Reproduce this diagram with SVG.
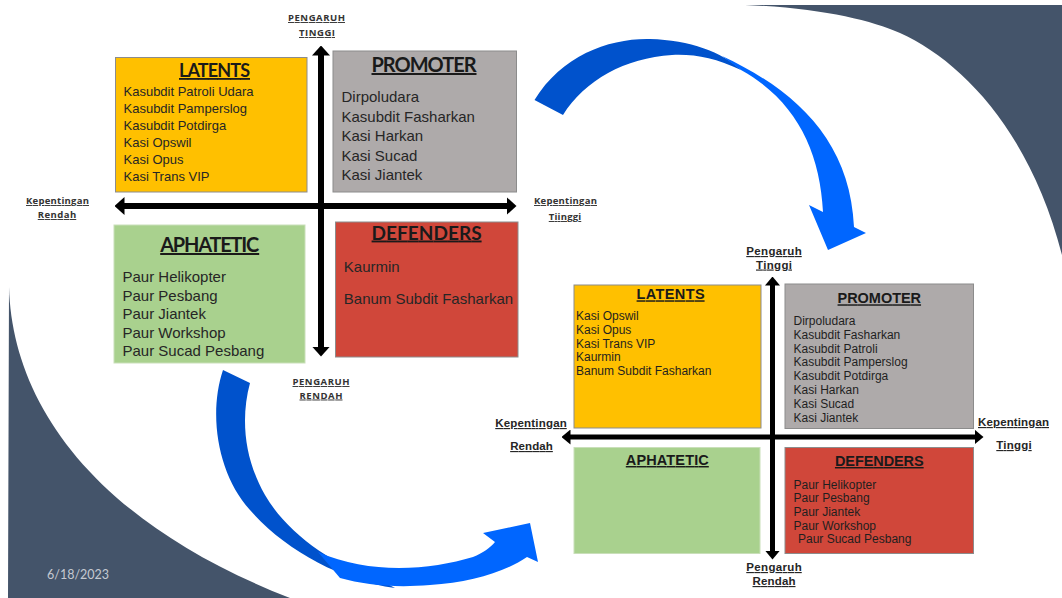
<svg xmlns="http://www.w3.org/2000/svg" width="1062" height="598" viewBox="0 0 1062 598">
<defs>
<style>
.bg{fill:#44546A}
.yel{fill:#FFC000;stroke:#8c8c8c;stroke-width:1}
.gry{fill:#AEAAAA;stroke:#8c8c8c;stroke-width:1}
.grn{fill:#A9D18E;stroke:#c9dfb9;stroke-width:1}
.red{fill:#D0473A;stroke:#8c8c8c;stroke-width:1}
.h1{font-family:Lato,"Open Sans",sans-serif;font-weight:bold;text-decoration:underline;text-anchor:middle;fill:#1a1a1a}
.i1{font-family:"Liberation Sans",Arial,sans-serif;fill:#262626}
.ax1{font-family:"Open Sans","Liberation Sans",sans-serif;font-weight:bold;font-size:9.5px;text-decoration:underline;text-anchor:middle;fill:#333}
.h2{font-family:"Liberation Sans",Arial,sans-serif;font-weight:bold;font-size:14.5px;text-decoration:underline;text-anchor:middle;fill:#1a1a1a}
.i2{font-family:"Liberation Sans",Arial,sans-serif;font-size:12px;fill:#1f1f1f}
.ax2{font-family:"Liberation Sans",Arial,sans-serif;font-weight:bold;font-size:11.5px;text-decoration:underline;text-anchor:middle;fill:#262626}
.axis1{stroke:#000;stroke-width:6;fill:none;marker-start:url(#ah1);marker-end:url(#ah1)}
.axis2{stroke:#000;stroke-width:5;fill:none;marker-start:url(#ah2);marker-end:url(#ah2)}
.bd{fill:#0052CC}
.bb{fill:#0066FF}
</style>
<marker id="ah1" viewBox="0 0 10 18" refX="0.5" refY="9" markerWidth="10" markerHeight="18" markerUnits="userSpaceOnUse" orient="auto-start-reverse"><path d="M0,0 L10,9 L0,18 Z" fill="#000"/></marker>
<marker id="ah2" viewBox="0 0 9 15" refX="0.5" refY="7.5" markerWidth="9" markerHeight="15" markerUnits="userSpaceOnUse" orient="auto-start-reverse"><path d="M0,0 L9,7.5 L0,15 Z" fill="#000"/></marker>
</defs>
<rect x="0" y="0" width="1062" height="598" fill="#fff"/>
<g id="background">
<path class="bg" d="M745,5 C820,8 870,20 900,33 C960,60 1030,130 1062,255 L1062,5 Z"/>
<path class="bg" d="M9,287 C12,400 90,520 290,598 L8,598 Z"/>
<text x="47" y="579" font-family="Lato,'Open Sans',sans-serif" font-size="12.5" fill="#c4c9d1">6/18/2023</text>
</g>
<g id="connectors">
<path class="axis1" d="M321,55 V347"/>
<path class="axis1" d="M124,206 H507"/>
<path class="axis2" d="M772.5,285 V551"/>
<path class="axis2" d="M570,437 H975"/>
<path class="bd" d="M534.5,100 C562,55 610,38 650,39 C690,40 722,52 741,70 C715,58 695,54 672,55 C625,58 585,80 563,115 Z"/>
<path class="bb" d="M722,56 C795,90 850,140 854,227 L866,233 L828,250 L809,205 L823,212 C820,150 795,100 741,70 Z"/>
<path class="bd" d="M223,370 C208,415 218,475 250,510 C285,550 340,580 395,588 L380,580 C330,565 285,530 265,495 C245,460 240,420 250,383 Z"/>
<path class="bb" d="M318,552 C370,575 430,570 473,557 C483,553 490,548 495,542 L483,533 L530,523 L538,562 L527,557 C505,572 470,583 430,585 C395,588 365,585 340,578 Z"/>
</g>
<g id="axis-labels-1">
<text class="ax1" x="316.5" y="21" textLength="57">PENGARUH</text>
<text class="ax1" x="317" y="36" textLength="36">TINGGI</text>
<text class="ax1" x="57.5" y="204" textLength="63">Kepentingan</text>
<text class="ax1" x="57" y="218" textLength="38.5">Rendah</text>
<text class="ax1" x="565.5" y="204" textLength="63">Kepentingan</text>
<text class="ax1" x="565" y="220" textLength="32.5">Tiinggi</text>
<text class="ax1" x="321" y="385" textLength="57">PENGARUH</text>
<text class="ax1" x="321" y="398.5" textLength="43">RENDAH</text>
</g>
<g id="q1-latents">
<rect class="yel" x="115.5" y="57.5" width="191.5" height="134.5"/>
<text class="h1" x="214.5" y="77" font-size="18" textLength="71">LATENTS</text>
<text class="i1" font-size="13" x="123.5" y="96">Kasubdit Patroli Udara</text>
<text class="i1" font-size="13" x="123.5" y="113">Kasubdit Pamperslog</text>
<text class="i1" font-size="13" x="123.5" y="130">Kasubdit Potdirga</text>
<text class="i1" font-size="13" x="123.5" y="147">Kasi Opswil</text>
<text class="i1" font-size="13" x="123.5" y="164">Kasi Opus</text>
<text class="i1" font-size="13" x="123.5" y="181">Kasi Trans VIP</text>
</g>
<g id="q1-promoter">
<rect class="gry" x="333" y="51" width="183.5" height="141"/>
<text class="h1" x="424" y="72" font-size="20" textLength="105">PROMOTER</text>
<text class="i1" font-size="15" x="341.5" y="102">Dirpoludara</text>
<text class="i1" font-size="15" x="341.5" y="121.5">Kasubdit Fasharkan</text>
<text class="i1" font-size="15" x="341.5" y="141">Kasi Harkan</text>
<text class="i1" font-size="15" x="341.5" y="160.5">Kasi Sucad</text>
<text class="i1" font-size="15" x="341.5" y="180">Kasi Jiantek</text>
</g>
<g id="q1-aphatetic">
<rect class="grn" x="114" y="225" width="191" height="138"/>
<text class="h1" x="209.7" y="252" font-size="20" textLength="99">APHATETIC</text>
<text class="i1" font-size="15" x="122.5" y="282">Paur Helikopter</text>
<text class="i1" font-size="15" x="122.5" y="300.5">Paur Pesbang</text>
<text class="i1" font-size="15" x="122.5" y="319">Paur Jiantek</text>
<text class="i1" font-size="15" x="122.5" y="337.5">Paur Workshop</text>
<text class="i1" font-size="15" x="122.5" y="356">Paur Sucad Pesbang</text>
</g>
<g id="q1-defenders">
<rect class="red" x="335.5" y="222" width="182.5" height="135"/>
<text class="h1" x="426.6" y="239.5" font-size="19" textLength="110">DEFENDERS</text>
<text class="i1" font-size="15" x="343.8" y="272">Kaurmin</text>
<text class="i1" font-size="15" x="343.8" y="303.5">Banum Subdit Fasharkan</text>
</g>
<g id="axis-labels-2">
<text class="ax2" x="774" y="255" textLength="55.5">Pengaruh</text>
<text class="ax2" x="774" y="268.5" textLength="36">Tinggi</text>
<text class="ax2" x="531" y="427" textLength="71.5">Kepentingan</text>
<text class="ax2" x="531.5" y="450" textLength="42.7">Rendah</text>
<text class="ax2" x="1013.5" y="426" textLength="71">Kepentingan</text>
<text class="ax2" x="1014" y="449" textLength="35.4">Tinggi</text>
<text class="ax2" x="774" y="571" textLength="55.5">Pengaruh</text>
<text class="ax2" x="774" y="585" textLength="43">Rendah</text>
</g>
<g id="q2-latents">
<rect class="yel" x="574" y="285" width="187" height="143"/>
<text class="h2" x="670.6" y="299.3" textLength="68">LATENTS</text>
<text class="i2" x="576" y="320">Kasi Opswil</text>
<text class="i2" x="576" y="333.8">Kasi Opus</text>
<text class="i2" x="576" y="347.6">Kasi Trans VIP</text>
<text class="i2" x="576" y="361.4">Kaurmin</text>
<text class="i2" x="576" y="375.2">Banum Subdit Fasharkan</text>
</g>
<g id="q2-promoter">
<rect class="gry" x="785" y="284" width="188.5" height="144.5"/>
<text class="h2" x="879.3" y="303.3" textLength="83.5">PROMOTER</text>
<text class="i2" x="793.5" y="325">Dirpoludara</text>
<text class="i2" x="793.5" y="338.8">Kasubdit Fasharkan</text>
<text class="i2" x="793.5" y="352.6">Kasubdit Patroli</text>
<text class="i2" x="793.5" y="366.4">Kasubdit Pamperslog</text>
<text class="i2" x="793.5" y="380.2">Kasubdit Potdirga</text>
<text class="i2" x="793.5" y="394">Kasi Harkan</text>
<text class="i2" x="793.5" y="407.8">Kasi Sucad</text>
<text class="i2" x="793.5" y="421.6">Kasi Jiantek</text>
</g>
<g id="q2-aphatetic">
<rect class="grn" x="574" y="447.5" width="186" height="106"/>
<text class="h2" x="667.3" y="465" textLength="83">APHATETIC</text>
</g>
<g id="q2-defenders">
<rect class="red" x="785" y="447.5" width="188.5" height="106"/>
<text class="h2" x="879.3" y="466" textLength="88.7">DEFENDERS</text>
<text class="i2" x="793.5" y="488.5">Paur Helikopter</text>
<text class="i2" x="793.5" y="502.2">Paur Pesbang</text>
<text class="i2" x="793.5" y="515.9">Paur Jiantek</text>
<text class="i2" x="793.5" y="529.6">Paur Workshop</text>
<text class="i2" x="798" y="543.3">Paur Sucad Pesbang</text>
</g>
</svg>
